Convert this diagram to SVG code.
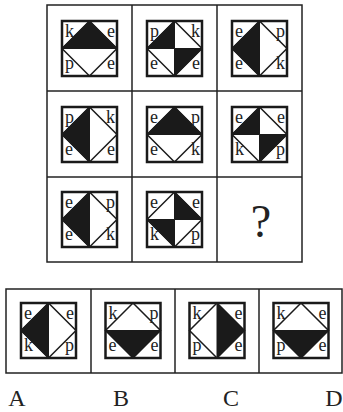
<svg xmlns="http://www.w3.org/2000/svg" width="343" height="412" viewBox="0 0 343 412">
<defs>
<style>
.frame{fill:none;stroke:#222;stroke-width:1.5}
.sq{fill:#fff;stroke:#1a1a1a;stroke-width:2.5}
.dia{fill:none;stroke:#1a1a1a;stroke-width:1.5;stroke-linejoin:miter}
.blk{fill:#1a1a1a;stroke:#1a1a1a;stroke-width:1}
.t{font-family:"Liberation Serif","Times New Roman",serif;font-size:18px;fill:#222}
.r{text-anchor:end}
.lab{font-family:"Liberation Serif","Times New Roman",serif;font-size:24px;fill:#222;text-anchor:middle}
.q{font-family:"Liberation Serif","Times New Roman",serif;font-size:46px;fill:#222;text-anchor:middle}
</style>
</defs>
<rect width="343" height="412" fill="#fff"/>
<g id="grid">
<rect class="frame" x="47" y="5" width="255" height="257"/>
<line class="frame" x1="132" y1="5" x2="132" y2="262"/>
<line class="frame" x1="217" y1="5" x2="217" y2="262"/>
<line class="frame" x1="47" y1="91" x2="302" y2="91"/>
<line class="frame" x1="47" y1="177" x2="302" y2="177"/>
</g>
<g id="options-frame">
<rect class="frame" x="6" y="289" width="336" height="84"/>
<line class="frame" x1="91" y1="289" x2="91" y2="373"/>
<line class="frame" x1="175" y1="289" x2="175" y2="373"/>
<line class="frame" x1="259" y1="289" x2="259" y2="373"/>
</g>
<g id="r1c1" transform="translate(62,21)">
<rect class="sq" width="55" height="55"/>
<polygon class="blk" points="27.5,0 55,27.5 0,27.5"/>
<path class="dia" d="M27.5,0L55,27.5L27.5,55L0,27.5Z"/>
<text class="t" x="3" y="16">k</text><text class="t r" x="53" y="16">e</text>
<text class="t" x="3" y="48">p</text><text class="t r" x="53" y="48">e</text>
</g>
<g id="r1c2" transform="translate(147,21)">
<rect class="sq" width="55" height="55"/>
<polygon class="blk" points="27.5,0 0,27.5 27.5,27.5"/>
<polygon class="blk" points="27.5,27.5 55,27.5 27.5,55"/>
<path class="dia" d="M27.5,0L55,27.5L27.5,55L0,27.5Z"/>
<text class="t" x="3" y="16">p</text><text class="t r" x="53" y="16">k</text>
<text class="t" x="3" y="48">e</text><text class="t r" x="53" y="48">e</text>
</g>
<g id="r1c3" transform="translate(232,21)">
<rect class="sq" width="55" height="55"/>
<polygon class="blk" points="27.5,0 0,27.5 27.5,55"/>
<path class="dia" d="M27.5,0L55,27.5L27.5,55L0,27.5Z"/>
<text class="t" x="3" y="16">e</text><text class="t r" x="53" y="16">p</text>
<text class="t" x="3" y="48">e</text><text class="t r" x="53" y="48">k</text>
</g>
<g id="r2c1" transform="translate(62,107)">
<rect class="sq" width="55" height="55"/>
<polygon class="blk" points="27.5,0 0,27.5 27.5,55"/>
<path class="dia" d="M27.5,0L55,27.5L27.5,55L0,27.5Z"/>
<text class="t" x="3" y="16">p</text><text class="t r" x="53" y="16">k</text>
<text class="t" x="3" y="48">e</text><text class="t r" x="53" y="48">e</text>
</g>
<g id="r2c2" transform="translate(147,107)">
<rect class="sq" width="55" height="55"/>
<polygon class="blk" points="27.5,0 55,27.5 0,27.5"/>
<path class="dia" d="M27.5,0L55,27.5L27.5,55L0,27.5Z"/>
<text class="t" x="3" y="16">e</text><text class="t r" x="53" y="16">p</text>
<text class="t" x="3" y="48">e</text><text class="t r" x="53" y="48">k</text>
</g>
<g id="r2c3" transform="translate(232,107)">
<rect class="sq" width="55" height="55"/>
<polygon class="blk" points="27.5,0 0,27.5 27.5,27.5"/>
<polygon class="blk" points="27.5,27.5 55,27.5 27.5,55"/>
<path class="dia" d="M27.5,0L55,27.5L27.5,55L0,27.5Z"/>
<text class="t" x="3" y="16">e</text><text class="t r" x="53" y="16">e</text>
<text class="t" x="3" y="48">k</text><text class="t r" x="53" y="48">p</text>
</g>
<g id="r3c1" transform="translate(62,192)">
<rect class="sq" width="55" height="55"/>
<polygon class="blk" points="27.5,0 0,27.5 27.5,55"/>
<path class="dia" d="M27.5,0L55,27.5L27.5,55L0,27.5Z"/>
<text class="t" x="3" y="16">e</text><text class="t r" x="53" y="16">p</text>
<text class="t" x="3" y="48">e</text><text class="t r" x="53" y="48">k</text>
</g>
<g id="r3c2" transform="translate(147,192)">
<rect class="sq" width="55" height="55"/>
<polygon class="blk" points="27.5,0 55,27.5 27.5,27.5"/>
<polygon class="blk" points="0,27.5 27.5,27.5 27.5,55"/>
<path class="dia" d="M27.5,0L55,27.5L27.5,55L0,27.5Z"/>
<text class="t" x="3" y="16">e</text><text class="t r" x="53" y="16">e</text>
<text class="t" x="3" y="48">k</text><text class="t r" x="53" y="48">p</text>
</g>
<g id="r3c3">
<text class="q" x="261" y="237">?</text>
</g>
<g id="optA" transform="translate(21,303)">
<rect class="sq" width="55" height="55"/>
<polygon class="blk" points="27.5,0 0,27.5 27.5,55"/>
<path class="dia" d="M27.5,0L55,27.5L27.5,55L0,27.5Z"/>
<text class="t" x="3" y="16">e</text><text class="t r" x="53" y="16">e</text>
<text class="t" x="3" y="48">k</text><text class="t r" x="53" y="48">p</text>
</g>
<g id="optB" transform="translate(105.5,303)">
<rect class="sq" width="55" height="55"/>
<polygon class="blk" points="0,27.5 55,27.5 27.5,55"/>
<path class="dia" d="M27.5,0L55,27.5L27.5,55L0,27.5Z"/>
<text class="t" x="3" y="16">k</text><text class="t r" x="53" y="16">p</text>
<text class="t" x="3" y="48">e</text><text class="t r" x="53" y="48">e</text>
</g>
<g id="optC" transform="translate(189.5,303)">
<rect class="sq" width="55" height="55"/>
<polygon class="blk" points="27.5,0 55,27.5 27.5,55"/>
<path class="dia" d="M27.5,0L55,27.5L27.5,55L0,27.5Z"/>
<text class="t" x="3" y="16">k</text><text class="t r" x="53" y="16">e</text>
<text class="t" x="3" y="48">p</text><text class="t r" x="53" y="48">e</text>
</g>
<g id="optD" transform="translate(273.5,303)">
<rect class="sq" width="55" height="55"/>
<polygon class="blk" points="0,27.5 55,27.5 27.5,55"/>
<path class="dia" d="M27.5,0L55,27.5L27.5,55L0,27.5Z"/>
<text class="t" x="3" y="16">k</text><text class="t r" x="53" y="16">e</text>
<text class="t" x="3" y="48">p</text><text class="t r" x="53" y="48">e</text>
</g>
<g id="labels">
<text class="lab" x="17" y="406">A</text>
<text class="lab" x="121" y="406">B</text>
<text class="lab" x="231" y="406">C</text>
<text class="lab" x="334" y="406">D</text>
</g>
</svg>
